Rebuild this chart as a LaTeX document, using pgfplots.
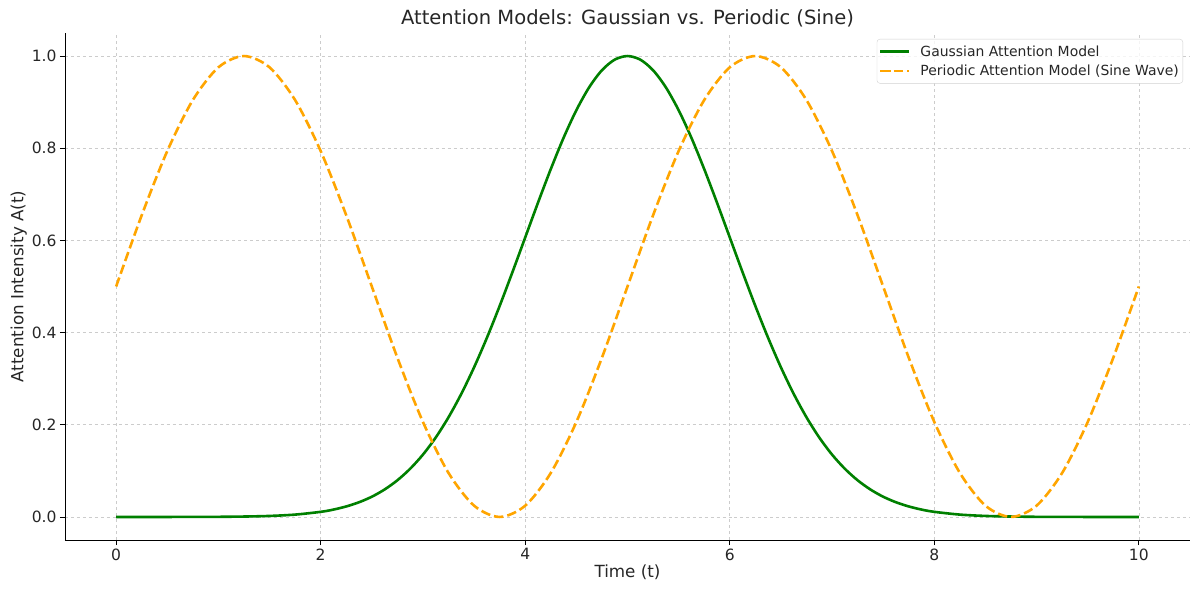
\documentclass[border=0pt]{standalone}
\usepackage{pgfplots}
\pgfplotsset{compat=1.18}
\usepackage{fontspec}
\setmainfont{DejaVu Sans}
\definecolor{mgreen}{RGB}{0,128,0}
\definecolor{morange}{RGB}{255,165,0}
\definecolor{txt}{RGB}{38,38,38}
\begin{document}
\begin{tikzpicture}
\path[use as bounding box] (-65bp,-55bp) rectangle (1135bp,540bp);
\begin{axis}[
  at={(0,0)}, anchor=south west,
  scale only axis, width=1125bp, height=507bp,
  xmin=-0.5, xmax=10.5, ymin=-0.05, ymax=1.05,
  axis x line*=bottom, axis y line*=left,
  axis line style={black, line width=0.9bp, -},
  xtick={0,2,4,6,8,10},
  ytick={0,0.2,0.4,0.6,0.8,1.0},
  yticklabel style={/pgf/number format/.cd, fixed, fixed zerofill, precision=1},
  /pgf/number format/assume math mode=true,
  tick align=outside, major tick length=5bp,
  tick style={black, line width=0.8bp},
  grid=major,
  major grid style={dashed, gray!40, line width=0.6bp},
  ticklabel style={font=\fontsize{15.6}{18}\selectfont, text=txt},
  xlabel={Time (t)}, ylabel={Attention Intensity A(t)},
  label style={font=\fontsize{16.8}{20}\selectfont, text=txt},
  xlabel style={yshift=2bp},
  ylabel style={yshift=-2bp},
  title={Attention Models: Gaussian vs. Periodic (Sine)},
  title style={font=\fontsize{19.6}{23}\selectfont, text=txt, yshift=-4bp},
  legend style={at={(1,1)}, anchor=north east, xshift=-7bp, yshift=-6bp,
    draw=gray!35, rounded corners=3bp, fill=white, fill opacity=0.8, text opacity=1,
    font=\fontsize{14}{17}\selectfont, text=txt, inner xsep=2bp, inner ysep=4.5bp,
    row sep=3bp, column sep=8bp},
  legend cell align=left,
  legend image post style={xscale=1.7},
]
\addplot[mgreen, line width=2.6bp, smooth] coordinates {
(0,0.0000) (0.25,0.0000) (0.5,0.0000) (0.75,0.0001) (1,0.0003) (1.25,0.0009)
(1.5,0.0022) (1.75,0.0051) (2,0.0111) (2.125,0.0160) (2.25,0.0228) (2.375,0.0319)
(2.5,0.0439) (2.625,0.0596) (2.75,0.0796) (2.875,0.1046)
(3,0.1353) (3.125,0.1724) (3.25,0.2163) (3.375,0.2671) (3.5,0.3247) (3.625,0.3886)
(3.75,0.4578) (3.875,0.5311) (4,0.6065) (4.125,0.6819) (4.25,0.7548) (4.375,0.8226)
(4.5,0.8825) (4.625,0.9321) (4.75,0.9692) (4.875,0.9922) (5,1.0000) (5.125,0.9922)
(5.25,0.9692) (5.375,0.9321) (5.5,0.8825) (5.625,0.8226) (5.75,0.7548) (5.875,0.6819)
(6,0.6065) (6.125,0.5311) (6.25,0.4578) (6.375,0.3886) (6.5,0.3247) (6.625,0.2671)
(6.75,0.2163) (6.875,0.1724) (7,0.1353) (7.125,0.1046) (7.25,0.0796) (7.375,0.0596)
(7.5,0.0439) (7.625,0.0319) (7.75,0.0228) (7.875,0.0160) (8,0.0111) (8.25,0.0051)
(8.5,0.0022) (8.75,0.0009)
(9,0.0003) (9.25,0.0001) (9.5,0.0000) (9.75,0.0000) (10,0.0000)
};
\addlegendentry{Gaussian Attention Model}
\addplot[morange, line width=2.6bp, smooth, dash pattern=on 9.5bp off 4bp] coordinates {
(0,0.5) (0.25,0.6545) (0.5,0.7939) (0.75,0.9045) (1,0.9755) (1.25,1.0)
(1.5,0.9755) (1.75,0.9045) (2,0.7939) (2.25,0.6545) (2.5,0.5) (2.75,0.3455)
(3,0.2061) (3.25,0.0955) (3.5,0.0245) (3.75,0.0) (4,0.0245) (4.25,0.0955)
(4.5,0.2061) (4.75,0.3455) (5,0.5) (5.25,0.6545) (5.5,0.7939) (5.75,0.9045)
(6,0.9755) (6.25,1.0) (6.5,0.9755) (6.75,0.9045) (7,0.7939) (7.25,0.6545)
(7.5,0.5) (7.75,0.3455) (8,0.2061) (8.25,0.0955) (8.5,0.0245) (8.75,0.0)
(9,0.0245) (9.25,0.0955) (9.5,0.2061) (9.75,0.3455) (10,0.5)
};
\addlegendentry{Periodic Attention Model (Sine Wave)}
\end{axis}
\end{tikzpicture}
\end{document}
